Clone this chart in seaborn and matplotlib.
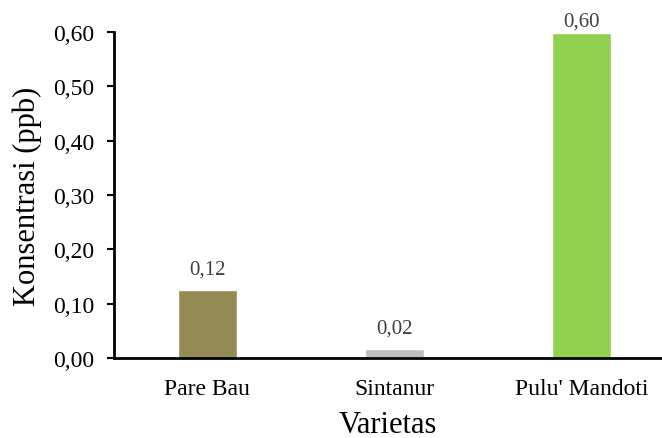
import matplotlib
matplotlib.use("Agg")
import matplotlib.pyplot as plt
import seaborn as sns
import pandas as pd

varietas = ["Pare Bau", "Sintanur", "Pulu' Mandoti"]
konsentrasi = [0.125, 0.016, 0.598]
label_nilai = ["0,12", "0,02", "0,60"]
yticks = [0.0, 0.1, 0.2, 0.3, 0.4, 0.5, 0.6]
ytick_labels = ["0,00", "0,10", "0,20", "0,30", "0,40", "0,50", "0,60"]

warna = {"Pare Bau": "#948A54", "Sintanur": "#BFBFBF", "Pulu' Mandoti": "#92D050"}


def main():
    sns.set_style("white")
    plt.rcParams["font.family"] = ["Liberation Serif", "DejaVu Serif"]

    df = pd.DataFrame({"Varietas": varietas, "Konsentrasi": konsentrasi})

    fig = plt.figure(figsize=(6.62, 4.39), dpi=100)
    ax = fig.add_axes([0.172, 0.182, 0.828, 0.743])

    sns.barplot(data=df, x="Varietas", y="Konsentrasi", hue="Varietas",
                palette=warna, legend=False, width=0.315, ax=ax,
                saturation=1)

    pads = [8.5, 8.5, 1.5]
    for cont, lab, pad in zip(ax.containers, label_nilai, pads):
        ax.bar_label(cont, labels=[lab], padding=pad, fontsize=15,
                     color="#404040", clip_on=False)

    ax.set_xlim(-0.5, 2.43)
    ax.set_ylim(0, 0.6)
    ax.set_yticks(yticks)
    ax.set_yticklabels(ytick_labels)
    ax.tick_params(axis="y", labelsize=17, length=5, width=1.5,
                   direction="out", left=True, color="black",
                   labelcolor="black", pad=9)
    ax.tick_params(axis="x", labelsize=17, length=0, pad=14,
                   labelcolor="black")

    sns.despine(ax=ax, top=True, right=True)
    for s in ["left", "bottom"]:
        ax.spines[s].set_linewidth(2)
        ax.spines[s].set_color("black")

    ax.set_xlabel("Varietas", fontsize=22, labelpad=8, color="black")
    ax.set_ylabel("Konsentrasi (ppb)", fontsize=22, labelpad=8, color="black")

    fig.savefig("out.png", dpi=100)


if __name__ == "__main__":
    main()
